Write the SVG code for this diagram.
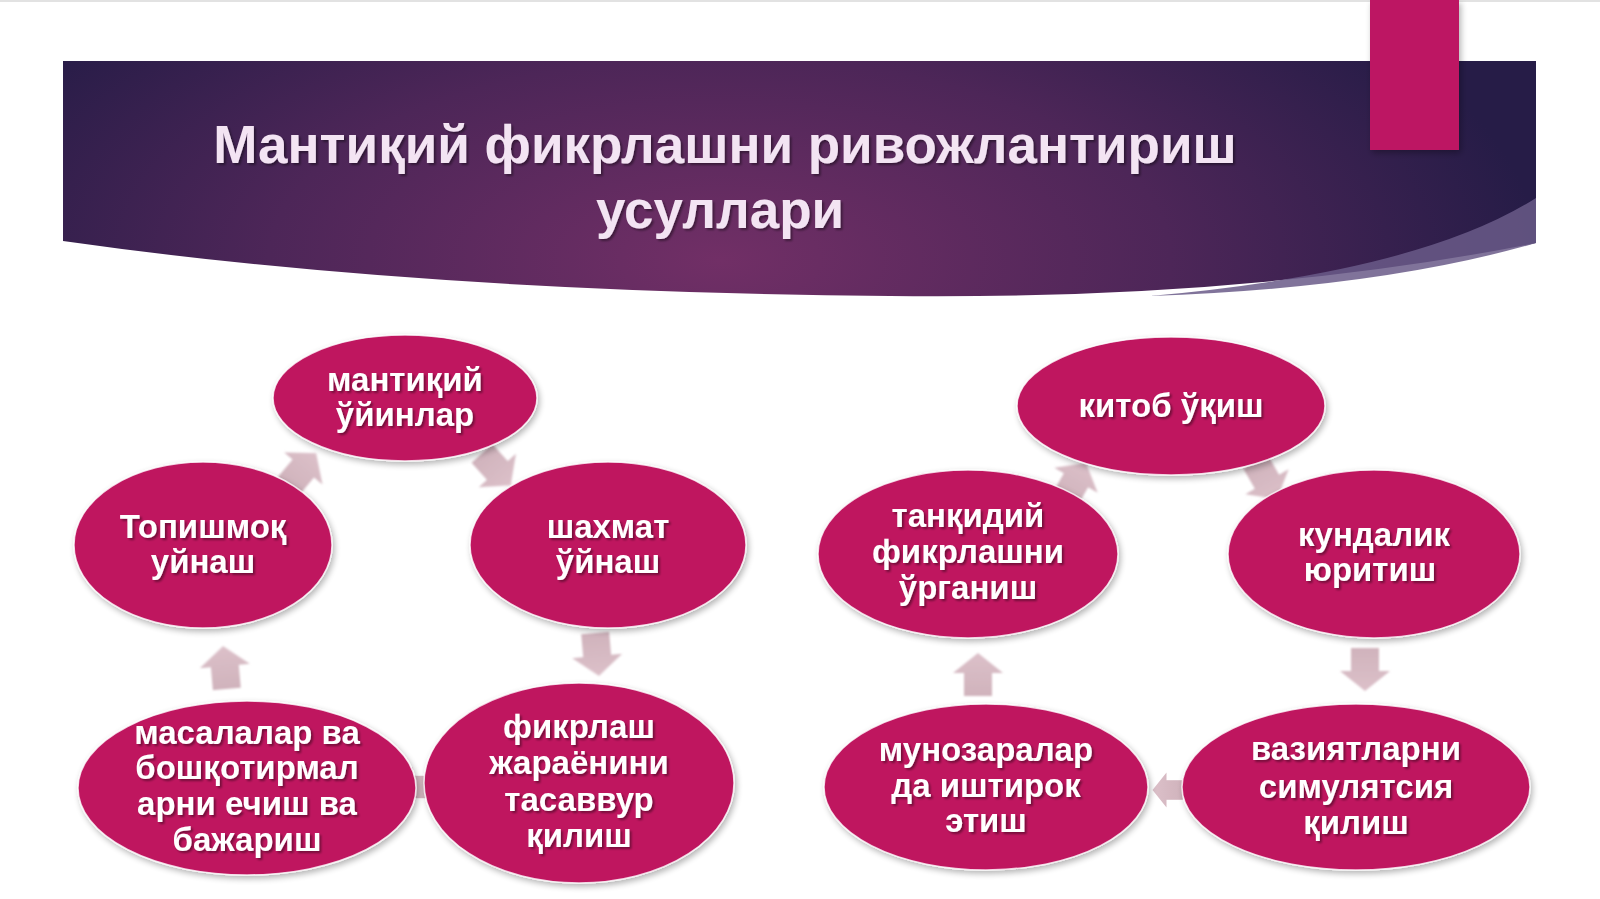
<svg xmlns="http://www.w3.org/2000/svg" width="1600" height="899" viewBox="0 0 1600 899">
<defs>
<radialGradient id="hdr" cx="720" cy="260" r="820" gradientUnits="userSpaceOnUse" gradientTransform="translate(720 260) scale(1 0.45) translate(-720 -260)">
<stop offset="0" stop-color="#712f66"/>
<stop offset="0.55" stop-color="#4d2658"/>
<stop offset="1" stop-color="#261c47"/>
</radialGradient>
<linearGradient id="arr" x1="0" y1="0" x2="0" y2="1">
<stop offset="0" stop-color="#dcc0c9"/>
<stop offset="1" stop-color="#d0b3bc"/>
</linearGradient>
<filter id="sh" x="-10%" y="-10%" width="130%" height="130%">
<feGaussianBlur in="SourceAlpha" stdDeviation="3"/>
<feOffset dx="2" dy="3" result="b"/>
<feComponentTransfer><feFuncA type="linear" slope="0.3"/></feComponentTransfer>
<feMerge><feMergeNode/><feMergeNode in="SourceGraphic"/></feMerge>
</filter>
<filter id="tsh" x="-5%" y="-20%" width="110%" height="140%">
<feGaussianBlur in="SourceAlpha" stdDeviation="1.2"/>
<feOffset dx="1.5" dy="2" result="b"/>
<feComponentTransfer><feFuncA type="linear" slope="0.4"/></feComponentTransfer>
<feMerge><feMergeNode/><feMergeNode in="SourceGraphic"/></feMerge>
</filter>
<filter id="soft"><feGaussianBlur stdDeviation="0.8"/></filter>
<path id="ar" d="M0,-22 L25,-2 L14,-2 L14,21 L-14,21 L-14,-2 L-25,-2 Z"/>
</defs>
<style>
.node ellipse{fill:#bf135f;stroke:#ffffff;stroke-width:1.5;stroke-opacity:0.8;filter:url(#sh)}
.node text{font-family:"Liberation Sans",Arial,sans-serif;font-weight:bold;font-size:33px;fill:#ffffff;text-anchor:middle;filter:url(#tsh)}
.title{font-family:"Liberation Sans",Arial,sans-serif;font-weight:bold;font-size:53px;fill:#f3e4f3;text-anchor:middle;filter:url(#tsh)}
#connectors use{fill:url(#arr);filter:url(#soft)}
</style>
<rect width="1600" height="899" fill="#ffffff"/>
<rect x="0" y="0" width="1600" height="2" fill="#e2e2e2"/>
<g id="header">
<path d="M63,61 H1536 V243 Q1250,300 890,296 Q420,292 63,241 Z" fill="url(#hdr)"/>
<path d="M1536,198 Q1420,272 1150,296 Q1380,288 1536,243 Z" fill="#6a5a88" opacity="0.85"/>
<rect x="1370" y="0" width="89" height="150" fill="#bd1463" filter="url(#sh)"/>
<text class="title" x="725" y="163">Мантиқий фикрлашни ривожлантириш</text>
<text class="title" x="720" y="228">усуллари</text>
</g>
<g id="connectors">
<use href="#ar" transform="translate(302 470) rotate(40)"/>
<use href="#ar" transform="translate(496 469) rotate(138)"/>
<use href="#ar" transform="translate(597 654) rotate(175)"/>
<use href="#ar" transform="translate(225 668) rotate(-5)"/>
<use href="#ar" transform="translate(414 787) rotate(-90) scale(0.8)"/>
<use href="#ar" transform="translate(1075 482) rotate(30)"/>
<use href="#ar" transform="translate(1266 480) rotate(150)"/>
<use href="#ar" transform="translate(1365 669) rotate(180)"/>
<use href="#ar" transform="translate(1168 790) rotate(-90) scale(0.7)"/>
<use href="#ar" transform="translate(978 675) rotate(0)"/>
</g>
<g id="n1" class="node"><ellipse cx="405" cy="398" rx="132" ry="63"/><text x="405" y="391">мантиқий</text><text x="405" y="426">ўйинлар</text></g>
<g id="n2" class="node"><ellipse cx="608" cy="545" rx="138" ry="83"/><text x="608" y="538">шахмат</text><text x="608" y="573">ўйнаш</text></g>
<g id="n3" class="node"><ellipse cx="579" cy="783" rx="155" ry="100"/><text x="579" y="738">фикрлаш</text><text x="579" y="774">жараёнини</text><text x="579" y="811">тасаввур</text><text x="579" y="847">қилиш</text></g>
<g id="n4" class="node"><ellipse cx="247" cy="788" rx="169" ry="87"/><text x="247" y="744">масалалар ва</text><text x="247" y="779">бошқотирмал</text><text x="247" y="815">арни ечиш ва</text><text x="247" y="851">бажариш</text></g>
<g id="n5" class="node"><ellipse cx="203" cy="545" rx="129" ry="83"/><text x="203" y="538">Топишмоқ</text><text x="203" y="573">уйнаш</text></g>
<g id="n6" class="node"><ellipse cx="1171" cy="406" rx="154" ry="69"/><text x="1171" y="417">китоб ўқиш</text></g>
<g id="n7" class="node"><ellipse cx="1374" cy="554" rx="146" ry="84"/><text x="1374" y="546">кундалик</text><text x="1370" y="581">юритиш</text></g>
<g id="n8" class="node"><ellipse cx="1356" cy="787" rx="174" ry="83"/><text x="1356" y="760">вазиятларни</text><text x="1356" y="798">симулятсия</text><text x="1356" y="834">қилиш</text></g>
<g id="n9" class="node"><ellipse cx="986" cy="787" rx="162" ry="83"/><text x="986" y="761">мунозаралар</text><text x="986" y="797">да иштирок</text><text x="986" y="832">этиш</text></g>
<g id="n10" class="node"><ellipse cx="968" cy="554" rx="150" ry="84"/><text x="968" y="527">танқидий</text><text x="968" y="563">фикрлашни</text><text x="968" y="599">ўрганиш</text></g>
</svg>
